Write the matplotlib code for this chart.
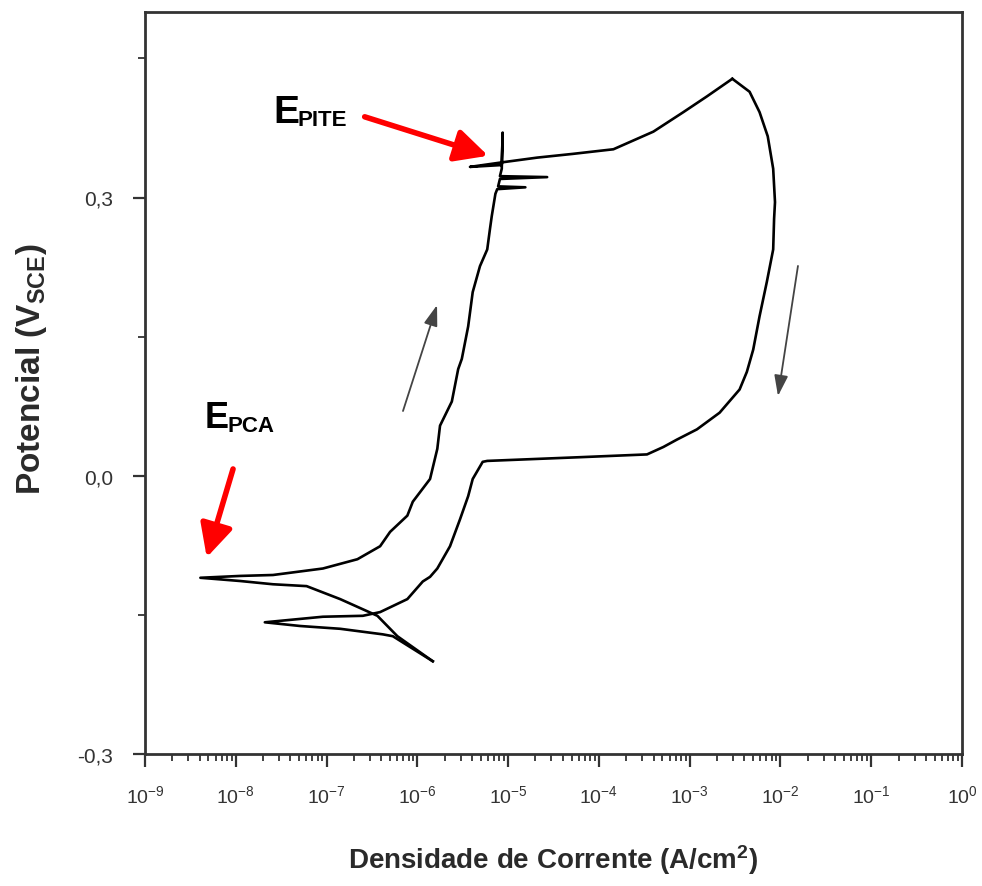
import numpy as np
import matplotlib
matplotlib.use("Agg")
import matplotlib.pyplot as plt
from matplotlib.ticker import FixedLocator, LogLocator, NullFormatter

plt.rcParams['font.family'] = ['Liberation Sans', 'DejaVu Sans']
plt.rcParams['mathtext.fontset'] = 'custom'
plt.rcParams['mathtext.rm'] = 'Liberation Sans'
plt.rcParams['mathtext.it'] = 'Liberation Sans:italic'
plt.rcParams['mathtext.bf'] = 'Liberation Sans:bold'

# ---- data (log10 of current density in A/cm2, potential in V_SCE) ----
fwd_logi = [-5.83, -6.22, -6.44, -6.85, -7.22, -7.59, -7.95, -8.39,
            -7.95, -7.59, -7.04, -6.66, -6.41, -6.30, -6.11, -6.05, -5.86,
            -5.78, -5.75, -5.62, -5.55, -5.51, -5.44, -5.39, -5.31, -5.23,
            -5.20, -5.18, -5.14, -5.12, -4.81, -5.11, -5.09, -4.57, -5.09,
            -5.07, -5.06, -5.07, -5.42, -5.06, -4.68, -4.29, -3.84, -3.40,
            -3.07, -2.81, -2.53]
fwd_E = [-0.200, -0.173, -0.151, -0.133, -0.119, -0.117, -0.1135, -0.110,
         -0.108, -0.107, -0.100, -0.090, -0.076, -0.0605, -0.043, -0.028, -0.0035,
         0.029, 0.054, 0.080, 0.115, 0.126, 0.161, 0.198, 0.226, 0.244,
         0.266, 0.280, 0.304, 0.309, 0.311, 0.312, 0.320, 0.322, 0.323,
         0.331, 0.370, 0.335, 0.333, 0.338, 0.343, 0.347, 0.352, 0.371,
         0.392, 0.409, 0.428]

rev_logi = [-2.53, -2.34, -2.23, -2.14, -2.08, -2.06, -2.07, -2.08, -2.15,
            -2.23, -2.30, -2.37, -2.45, -2.67, -2.92, -3.14, -3.29, -3.47,
            -4.21, -5.23, -5.28, -5.39, -5.44, -5.53, -5.64, -5.78, -5.86,
            -5.94, -6.11, -6.41, -6.60, -7.04, -7.68,
            -7.29, -6.85, -6.38, -6.27, -5.83]
rev_E = [0.428, 0.414, 0.392, 0.366, 0.331, 0.295, 0.277, 0.244, 0.209,
         0.172, 0.136, 0.112, 0.093, 0.068, 0.050, 0.039, 0.031, 0.023,
         0.020, 0.016, 0.015, -0.0035, -0.022, -0.047, -0.076, -0.100, -0.109,
         -0.114, -0.133, -0.147, -0.151, -0.152, -0.158,
         -0.162, -0.165, -0.171, -0.173, -0.200]

x_tick_exps = [-9, -8, -7, -6, -5, -4, -3, -2, -1, 0]
y_ticks = [-0.3, 0.0, 0.3]
y_tick_labels = ['-0,3', '0,0', '0,3']
y_minor = [-0.15, 0.15, 0.45]

# annotation anchors (log10 i, E)
epite_text = (-7.59, 0.381)
epite_sub = (-7.32, 0.378)
epite_tail = (-6.58, 0.387)
epite_tip = (-5.22, 0.345)
epca_text = (-8.34, 0.0526)
epca_sub = (-8.09, 0.048)
epca_tail = (-8.03, 0.0073)
epca_tip = (-8.32, -0.088)
up_tail = (-6.158, 0.0698)
up_head = (-5.783, 0.184)
down_tail = (-1.807, 0.2262)
down_head = (-2.027, 0.086)

fig = plt.figure(figsize=(9.82, 8.87), dpi=100)
ax = fig.add_axes([145/982, 1-755/887, (962-145)/982, (755-13)/887])

ax.plot(10**np.array(fwd_logi), fwd_E, color='black', lw=1.9)
ax.plot(10**np.array(rev_logi), rev_E, color='black', lw=1.9)

ax.set_xscale('log')
ax.set_xlim(1e-9, 1e0)
ax.set_ylim(-0.3, 0.5)

ax.xaxis.set_major_locator(FixedLocator([10.0**e for e in x_tick_exps]))
ax.set_xticklabels([r'$10^{%d}$' % e for e in x_tick_exps])
ax.xaxis.set_minor_locator(LogLocator(base=10, subs=np.arange(2, 10)))
ax.xaxis.set_minor_formatter(NullFormatter())
ax.set_yticks(y_ticks)
ax.set_yticklabels(y_tick_labels)
ax.yaxis.set_minor_locator(FixedLocator(y_minor))

for s in ax.spines.values():
    s.set_linewidth(2.0)
    s.set_color('#333333')
ax.tick_params(which='major', direction='out', length=9, width=1.6, colors='#333333',
               labelcolor='#333333')
ax.tick_params(which='minor', direction='out', length=5, width=1.3, colors='#333333')
ax.tick_params(axis='x', which='major', pad=13, labelsize=14)
ax.tick_params(axis='y', which='major', pad=14, labelsize=15)

ax.set_xlabel(r'Densidade de Corrente (A/cm$^{\mathregular{2}}$)', fontsize=20,
              fontweight='bold', color='#2a2a2a', labelpad=26)
ax.set_ylabel(r'Potencial (V$_{\mathregular{SCE}}$)', fontsize=24, fontweight='bold',
              color='#2a2a2a')
ax.yaxis.set_label_coords(-0.118, 0.52)

def P(pt):
    return (10**pt[0], pt[1])

ax.text(*P(epite_text), 'E', fontsize=28, fontweight='bold',
        ha='left', va='baseline')
ax.text(*P(epite_sub), 'PITE', fontsize=16, fontweight='bold',
        ha='left', va='baseline')
ax.text(*P(epca_text), 'E', fontsize=26, fontweight='bold',
        ha='left', va='baseline')
ax.text(*P(epca_sub), 'PCA', fontsize=16, fontweight='bold',
        ha='left', va='baseline')

red_style = dict(arrowstyle='-|>,head_length=0.9,head_width=0.45', lw=4,
                 color='#ff0000', mutation_scale=22, shrinkA=0, shrinkB=0)
ax.annotate('', xy=P(epite_tip), xytext=P(epite_tail), arrowprops=red_style)
ax.annotate('', xy=P(epca_tip), xytext=P(epca_tail), arrowprops=red_style)

gray_style = dict(arrowstyle='-|>,head_length=0.9,head_width=0.3', lw=1.3,
                  color='#444444', mutation_scale=14, shrinkA=0, shrinkB=0)
ax.annotate('', xy=P(up_head), xytext=P(up_tail), arrowprops=gray_style)
ax.annotate('', xy=P(down_head), xytext=P(down_tail), arrowprops=gray_style)

fig.savefig('out.png', dpi=100)
